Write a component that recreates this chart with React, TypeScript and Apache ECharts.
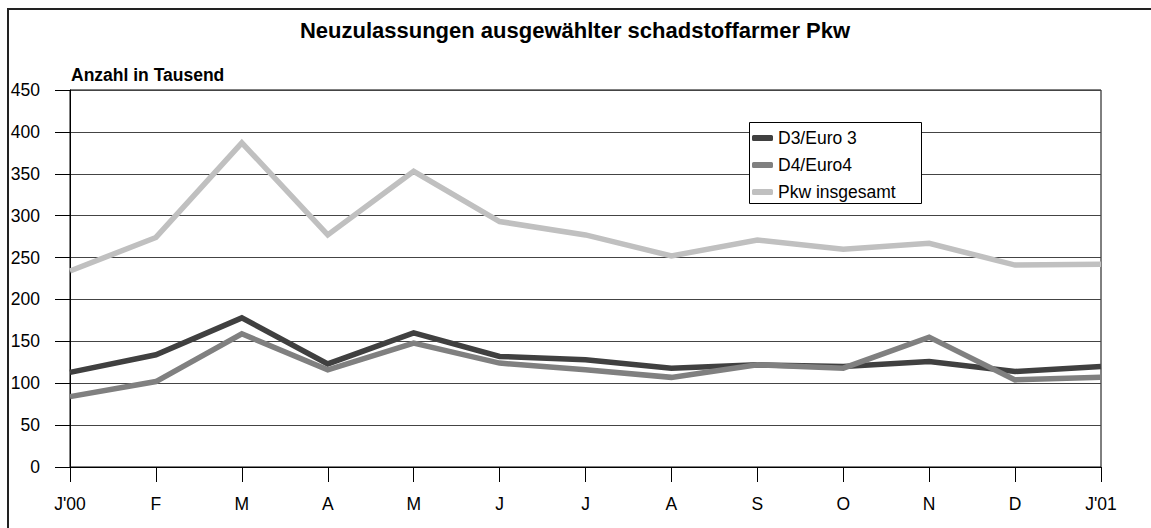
import React, { useEffect, useRef } from "react";
import * as echarts from "echarts";

const months = ["J'00", "F", "M", "A", "M", "J", "J", "A", "S", "O", "N", "D", "J'01"];
const d3Euro3 = [113, 134, 178, 123, 160, 132, 128, 118, 122, 120, 126, 114, 120];
const d4Euro4 = [84, 102, 159, 116, 148, 124, 116, 107, 122, 118, 155, 104, 107];
const pkwTotal = [234, 274, 387, 277, 353, 293, 277, 252, 271, 260, 267, 241, 242];
const seriesNames = ["D3/Euro 3", "D4/Euro4", "Pkw insgesamt"];
const seriesColors = ["#404040", "#808080", "#c0c0c0"];
const titleText = "Neuzulassungen ausgewählter schadstoffarmer Pkw";
const unitText = "Anzahl in Tausend";

const FONT = "'Liberation Sans', Arial, sans-serif";

export default function App() {
  const ref = useRef<HTMLDivElement>(null);
  useEffect(() => {
    if (!ref.current) return;
    const chart = echarts.init(ref.current, undefined, { renderer: "svg" });
    const data = [d3Euro3, d4Euro4, pkwTotal];
    chart.setOption({
      animation: false,
      textStyle: { fontFamily: FONT },
      grid: {
        left: 70,
        right: 50,
        top: 90,
        bottom: 61,
        show: true,
        borderColor: "#000",
        borderWidth: 1,
        backgroundColor: "transparent",
      },
      graphic: [
        {
          type: "rect",
          shape: { x: 8, y: 9, width: 1300, height: 700 },
          style: { fill: "none", stroke: "#222", lineWidth: 2 },
          silent: true,
          z: 10,
        },
        {
          type: "text",
          x: 575,
          y: 30,
          style: {
            text: titleText,
            fill: "#000",
            font: `bold 22px ${FONT}`,
            align: "center",
            verticalAlign: "middle",
          },
        },
        {
          type: "text",
          x: 71,
          y: 75,
          style: {
            text: unitText,
            fill: "#000",
            font: `bold 17.5px ${FONT}`,
            align: "left",
            verticalAlign: "middle",
          },
        },
        {
          type: "rect",
          shape: { x: 749.5, y: 122.5, width: 172, height: 81 },
          style: { fill: "#fff", stroke: "#000", lineWidth: 1 },
          z: 3,
        },
      ],
      legend: {
        orient: "vertical",
        left: 752,
        top: 128,
        padding: 0,
        itemGap: 7,
        itemWidth: 21,
        itemHeight: 6,
        icon: "roundRect",
        z: 5,
        data: seriesNames,
        textStyle: {
          fontFamily: FONT,
          fontSize: 17.5,
          color: "#000",
          lineHeight: 20,
          padding: [0, 0, 0, 0],
        },
      },
      xAxis: {
        type: "category",
        data: months,
        boundaryGap: false,
        axisLine: { lineStyle: { color: "#000", width: 1 } },
        axisTick: { show: true, length: 15, lineStyle: { color: "#000" } },
        axisLabel: { color: "#000", fontSize: 17.5, fontFamily: FONT, margin: 28 },
        splitLine: { show: false },
      },
      yAxis: {
        type: "value",
        min: 0,
        max: 450,
        interval: 50,
        axisLine: { show: true, lineStyle: { color: "#000", width: 1 } },
        axisTick: { show: true, length: 15, lineStyle: { color: "#000" } },
        axisLabel: {
          color: "#000",
          fontSize: 17.5,
          fontFamily: FONT,
          margin: 30,
          padding: [10, 0, 0, 0],
        },
        splitLine: { show: true, lineStyle: { color: "#444", width: 1 } },
      },
      series: seriesNames.map((name, i) => ({
        name,
        type: "line",
        data: data[i],
        symbol: "none",
        color: seriesColors[i],
        lineStyle: { width: 5.5, color: seriesColors[i], join: "miter" },
      })),
    });
    return () => chart.dispose();
  }, []);
  return (
    <div
      ref={ref}
      style={{ position: "fixed", left: 0, top: 0, width: 1151, height: 528, background: "#fff" }}
    />
  );
}
